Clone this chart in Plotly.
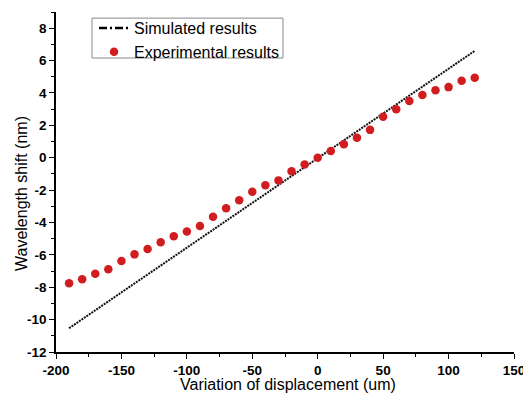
import plotly.graph_objects as go

# Simulated response: straight line between its two end points
sim_x = [-190, 120]
sim_y = [-10.53, 6.60]

# Measured wavelength shift at each displacement step (um)
exp_x = [-190, -180, -170, -160, -150, -140, -130, -120, -110, -100,
         -90, -80, -70, -60, -50, -40, -30, -20, -10, 0,
         10, 20, 30, 40, 50, 60, 70, 80, 90, 100, 110, 120]
exp_y = [-7.75, -7.51, -7.16, -6.89, -6.38, -5.97, -5.64, -5.22, -4.85, -4.56,
         -4.22, -3.64, -3.12, -2.63, -2.10, -1.70, -1.40, -0.84, -0.42, 0.00,
         0.42, 0.83, 1.24, 1.72, 2.53, 2.99, 3.50, 3.87, 4.16, 4.36, 4.75, 4.94]

x_ticks = [-200, -150, -100, -50, 0, 50, 100, 150]
x_labels = ["-200", "-150", "-100", "-50", "0", "50", "100", "150"]
y_ticks = [-12, -10, -8, -6, -4, -2, 0, 2, 4, 6, 8]
y_labels = ["-12", "-10", "-8", "-6", "-4", "-2", "0", "2", "4", "6", "8"]

FONT = "Liberation Sans, Arial, sans-serif"
RED = "#d21d20"

fig = go.Figure()

# legend entry for the simulated line (dash-dot sample)
fig.add_trace(go.Scatter(
    x=[None], y=[None], mode="lines", name="Simulated results",
    line=dict(color="black", width=2.5, dash="8px,3px,2px,3px"),
))
fig.add_trace(go.Scatter(
    x=sim_x, y=sim_y, mode="lines", showlegend=False,
    line=dict(color="#111111", width=2, dash="2px,1px"),
))
fig.add_trace(go.Scatter(
    x=exp_x, y=exp_y, mode="markers", name="Experimental results",
    marker=dict(color=RED, size=8.5, line=dict(width=0)),
))

axis_common = dict(
    showline=True, linecolor="black", linewidth=1.5,
    ticks="outside", ticklen=5, tickwidth=1.3, tickcolor="black",
    showgrid=False, zeroline=False, mirror=False, automargin=False,
    tickfont=dict(family=FONT, size=13.5, color="black", weight="bold"),
)

fig.update_xaxes(
    range=[-200, 150], tickmode="array", tickvals=x_ticks, ticktext=x_labels,
    ticklabeloverflow="allow",
    minor=dict(tick0=-200, dtick=25, ticks="outside", ticklen=3, tickwidth=1.2, tickcolor="black"),
    **axis_common,
)
fig.update_yaxes(
    range=[-12, 9], tickmode="array", tickvals=y_ticks, ticktext=y_labels,
    minor=dict(tick0=-12, dtick=1, ticks="outside", ticklen=3, tickwidth=1.2, tickcolor="black"),
    **axis_common,
)

title_font = dict(family=FONT, size=16, color="black")
fig.add_annotation(
    text="Variation of displacement (um)", xref="paper", yref="paper",
    x=0.5055, y=-0.0956, xanchor="center", yanchor="middle",
    showarrow=False, font=title_font,
)
fig.add_annotation(
    text="Wavelength shift (nm)", xref="paper", yref="paper",
    x=-0.0764, y=0.4647, xanchor="center", yanchor="middle", textangle=-90,
    showarrow=False, font=title_font,
)

# legend frame
fig.add_shape(
    type="rect", xref="paper", yref="paper",
    x0=0.0786, x1=0.4956, y0=0.8647, y1=0.982,
    line=dict(color="#888888", width=1), fillcolor="white", layer="below",
)

fig.update_layout(
    width=523, height=393,
    margin=dict(l=56, r=9, t=12, b=41),
    paper_bgcolor="white", plot_bgcolor="white",
    showlegend=True,
    legend=dict(
        x=0.083, y=1.003, xanchor="left", yanchor="top",
        bgcolor="rgba(0,0,0,0)", borderwidth=0,
        font=dict(family=FONT, size=16, color="black"),
        tracegroupgap=0, itemwidth=30,
    ),
)

fig.write_html("out.html")
